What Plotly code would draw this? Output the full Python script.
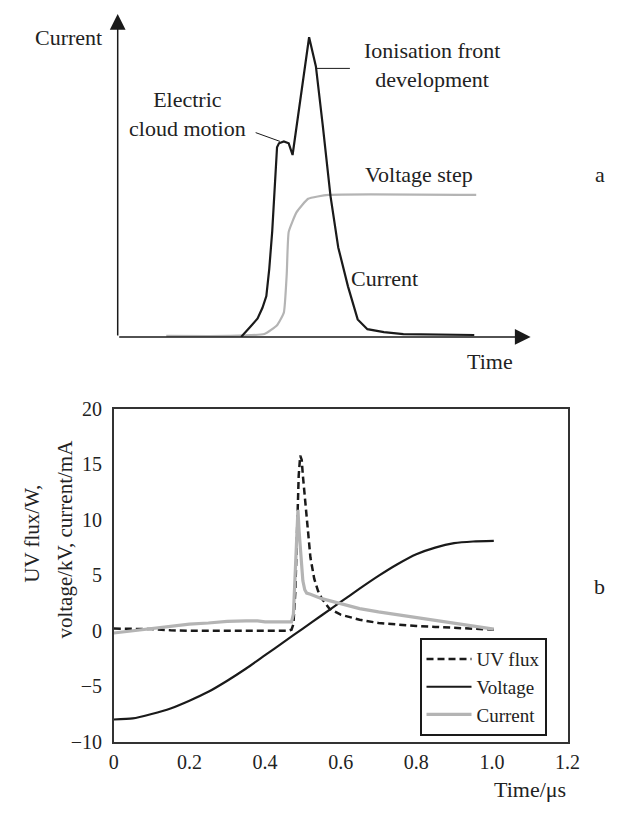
import plotly.graph_objects as go

W, H = 633, 814

# ---------------- Panel b data (measured) ----------------
t_uv = [0, 0.05, 0.1, 0.15, 0.2, 0.3, 0.4, 0.46, 0.47, 0.475, 0.48, 0.485, 0.489, 0.493, 0.497,
        0.5, 0.505, 0.51, 0.52, 0.53, 0.54, 0.55, 0.57, 0.6, 0.65, 0.7, 0.75, 0.8, 0.85, 0.9, 0.95, 1.005]
uv = [0.2, 0.2, 0.15, 0.05, 0.0, 0.0, 0.0, 0.0, 0.1, 0.6, 3.5, 9.5, 14.0, 15.8, 15.4,
      14.0, 12.0, 9.9, 6.6, 4.7, 3.6, 2.9, 2.0, 1.45, 1.0, 0.7, 0.55, 0.43, 0.35, 0.28, 0.2, 0.1]

t_volt = [0, 0.05, 0.1, 0.15, 0.2, 0.25, 0.3, 0.35, 0.4, 0.45, 0.5, 0.55, 0.6, 0.65,
          0.7, 0.75, 0.8, 0.85, 0.9, 0.95, 1.005]
volt = [-8.0, -7.9, -7.5, -7.0, -6.3, -5.5, -4.5, -3.4, -2.2, -1.0, 0.2, 1.4, 2.6, 3.8,
        4.95, 6.0, 6.9, 7.5, 7.9, 8.05, 8.1]

t_cur = [0, 0.05, 0.1, 0.15, 0.2, 0.25, 0.3, 0.35, 0.38, 0.4, 0.47, 0.475, 0.48, 0.483, 0.487,
         0.49, 0.495, 0.5, 0.505, 0.51, 0.52, 0.55, 0.6, 0.65, 0.7, 0.75, 0.8, 0.85, 0.9, 0.95, 1.005]
cur = [-0.2, 0.0, 0.25, 0.45, 0.6, 0.7, 0.85, 0.9, 0.9, 0.8, 0.8, 1.5, 5.0, 8.5, 10.9,
       9.0, 6.5, 4.5, 3.7, 3.4, 3.3, 2.9, 2.45, 2.0, 1.7, 1.45, 1.15, 0.9, 0.65, 0.4, 0.15]

x_tickvals = [0, 0.2, 0.4, 0.6, 0.8, 1.0, 1.2]
x_ticktext = ["0", "0.2", "0.4", "0.6", "0.8", "1.0", "1.2"]
y_tickvals = [-10, -5, 0, 5, 10, 15, 20]

# ---------------- Panel a schematic (arbitrary units) ----------------
sch_t_cur = [127, 132, 137, 144, 149, 153, 156, 159, 164, 166, 171, 176, 180, 197, 204, 211, 219, 227,
             237, 247, 257, 274, 294, 367]
sch_cur = [0, 6, 11, 19, 30, 42, 70, 108, 195, 199, 201, 199, 187, 308, 278, 218, 145, 92,
           52, 18, 8, 5, 3, 2]
sch_t_volt = [50, 114, 151, 164, 171, 174, 176, 184, 196, 217, 369]
sch_volt = [1, 1, 3, 12, 25, 65, 108, 128, 142, 146, 146]

FONT = "Liberation Serif, Times New Roman, serif"
TXT = "#222222"
BLACK = "#1a1a1a"
GREY = "#b4b4b4"


def px(x):
    return x / W


def py(y):
    return 1 - y / H


fig = go.Figure()

# panel b traces
fig.add_trace(go.Scatter(x=t_uv, y=uv, mode="lines", name="UV flux",
                         line=dict(color=BLACK, width=2.5, dash="7px,4px"),
                         xaxis="x", yaxis="y"))
fig.add_trace(go.Scatter(x=t_volt, y=volt, mode="lines", name="Voltage",
                         line=dict(color=BLACK, width=2.2, shape="spline", smoothing=0.6),
                         xaxis="x", yaxis="y"))
fig.add_trace(go.Scatter(x=t_cur, y=cur, mode="lines", name="Current",
                         line=dict(color=GREY, width=3.2),
                         xaxis="x", yaxis="y"))

# panel a traces
fig.add_trace(go.Scatter(x=sch_t_volt, y=sch_volt, mode="lines", showlegend=False,
                         line=dict(color=GREY, width=2.2, shape="spline", smoothing=0.4),
                         xaxis="x2", yaxis="y2"))
fig.add_trace(go.Scatter(x=sch_t_cur, y=sch_cur, mode="lines", showlegend=False,
                         line=dict(color=BLACK, width=2.2),
                         xaxis="x2", yaxis="y2"))

ann = []


def text(x, y, s, size=22, xanchor="center", yanchor="middle", angle=0, align="center"):
    ann.append(dict(x=px(x), y=py(y), xref="paper", yref="paper", text=s, showarrow=False,
                    xanchor=xanchor, yanchor=yanchor, textangle=angle, align=align,
                    font=dict(family=FONT, size=size, color=TXT)))


# Panel a texts
text(102, 27, "Current", xanchor="right")
text(188, 106, "Electric<br>cloud motion")
text(440, 56, "Ionisation front<br>development")
text(426, 168, "Voltage step")
text(391, 275, "Current")
text(499, 360, "Time")
text(612, 168, "a")
# Panel b texts
text(612, 591, "b")
text(540, 800, "Time/μs")
text(28, 537, "UV flux/W,", size=21, angle=-90)
text(62, 543, "voltage/kV, current/mA", size=21, angle=-90)

# Axis arrows for panel a
for (tx, ty) in [(425, 0), (0, 332)]:
    ann.append(dict(x=tx, y=ty, ax=0, ay=0, xref="x2", yref="y2", axref="x2", ayref="y2",
                    text="", showarrow=True, arrowhead=2, arrowsize=2.1, arrowwidth=1.5,
                    arrowcolor=BLACK, standoff=0))

shapes = [
    dict(type="line", xref="paper", yref="paper", x0=px(320), y0=py(59), x1=px(355), y1=py(59),
         line=dict(color=BLACK, width=1)),
    dict(type="line", xref="paper", yref="paper", x0=px(258), y0=py(125), x1=px(283), y1=py(134),
         line=dict(color=BLACK, width=1)),
]

axis_common = dict(showgrid=False, zeroline=False, ticks="",
                   tickfont=dict(family=FONT, size=20, color=TXT))

fig.update_layout(
    width=W, height=H,
    margin=dict(l=0, r=0, t=0, b=0),
    paper_bgcolor="white", plot_bgcolor="white",
    font=dict(family=FONT, size=20, color=TXT),
    xaxis=dict(domain=[px(112), px(579)], range=[0, 1.2], anchor="y",
               tickvals=x_tickvals, ticktext=x_ticktext,
               showline=True, mirror=True, linecolor="#333333", linewidth=1.5,
               ticklabelstandoff=2, **axis_common),
    yaxis=dict(domain=[py(751), py(409)], range=[-10, 20], anchor="x",
               tickvals=y_tickvals,
               showline=True, mirror=True, linecolor="#333333", linewidth=1.5,
               ticklabelstandoff=6, **axis_common),
    xaxis2=dict(domain=[px(116), px(541)], range=[0, 425], anchor="y2", visible=False,
                showgrid=False, zeroline=False),
    yaxis2=dict(domain=[py(335), py(3)], range=[0, 332], anchor="x2", visible=False,
                showgrid=False, zeroline=False),
    legend=dict(x=px(492), y=py(695), xanchor="center", yanchor="middle",
                bgcolor="white", bordercolor=BLACK, borderwidth=2,
                font=dict(family=FONT, size=19, color=TXT),
                itemwidth=45, tracegroupgap=0),
    annotations=ann,
    shapes=shapes,
    showlegend=True,
)

fig.write_html("out.html")
